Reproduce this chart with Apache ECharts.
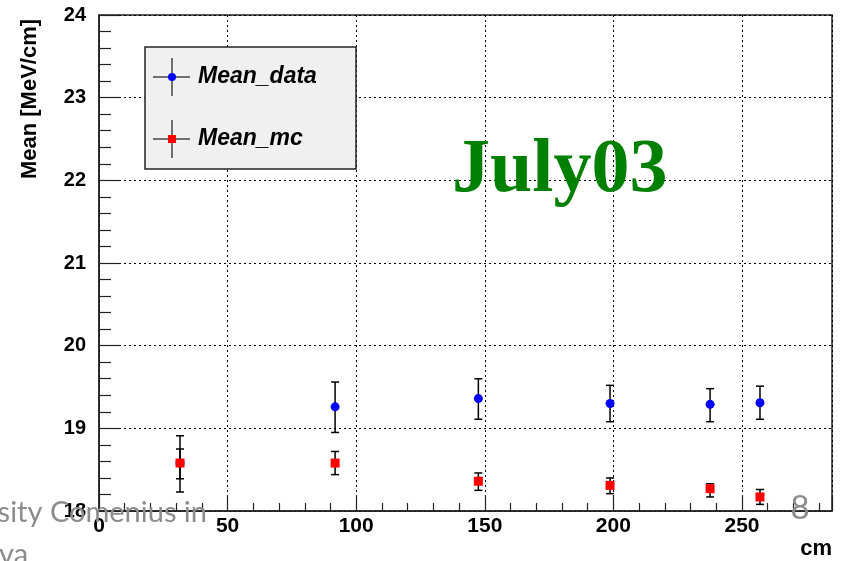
<!DOCTYPE html>
<html>
<head>
<meta charset="utf-8">
<title>Mean energy loss vs position</title>
<script src="https://cdn.jsdelivr.net/npm/echarts@6/dist/echarts.min.js"></script>
<style>
  html, body { margin: 0; padding: 0; background: #fff; }
  #chart { width: 844px; height: 561px; }
</style>
</head>
<body>
<div id="chart"></div>
<script>
// Measurement positions along the module (cm)
const positions = [31.5, 91.8, 147.5, 198.7, 237.6, 257.0];

// Mean energy loss in data, with error band limits (MeV/cm)
const meanData = [18.58, 19.26, 19.36, 19.30, 19.29, 19.31];
const dataLow  = [18.23, 18.95, 19.11, 19.08, 19.08, 19.11];
const dataHigh = [18.91, 19.56, 19.60, 19.52, 19.48, 19.51];

// Mean energy loss in Monte Carlo, with error band limits (MeV/cm)
const meanMc = [18.58, 18.58, 18.36, 18.31, 18.27, 18.17];
const mcLow  = [18.39, 18.44, 18.25, 18.21, 18.17, 18.08];
const mcHigh = [18.75, 18.72, 18.46, 18.40, 18.33, 18.26];

const seriesNames = ['Mean_data', 'Mean_mc'];
const runLabel = 'July03';

const chart = echarts.init(document.getElementById('chart'));

// Vertical error bar with end caps, drawn in data coordinates
function errorBar(params, api) {
  const x = api.value(0);
  const top = api.coord([x, api.value(2)]);
  const bottom = api.coord([x, api.value(1)]);
  const cap = 4;
  const style = { stroke: '#000', lineWidth: 1.5 };
  return {
    type: 'group',
    children: [
      { type: 'line', shape: { x1: top[0], y1: top[1], x2: bottom[0], y2: bottom[1] }, style },
      { type: 'line', shape: { x1: top[0] - cap, y1: top[1], x2: top[0] + cap, y2: top[1] }, style },
      { type: 'line', shape: { x1: bottom[0] - cap, y1: bottom[1], x2: bottom[0] + cap, y2: bottom[1] }, style }
    ]
  };
}

// Legend drawn as a ROOT-style box with cross markers
const legendLeft = 145, legendTop = 47, legendW = 211, legendH = 122;
function legendEntry(cy, color, symbol, text) {
  const cx = 172;
  const cross = { stroke: '#444', lineWidth: 1.5 };
  const marker = symbol === 'circle'
    ? { type: 'circle', z: 12, shape: { cx, cy, r: 4 }, style: { fill: color } }
    : { type: 'rect', z: 12, shape: { x: cx - 4, y: cy - 4, width: 8, height: 8 }, style: { fill: color } };
  return [
    { type: 'line', z: 11, shape: { x1: 153, y1: cy, x2: 190, y2: cy }, style: cross },
    { type: 'line', z: 11, shape: { x1: cx, y1: cy - 19, x2: cx, y2: cy + 19 }, style: cross },
    marker,
    { type: 'text', z: 12, style: { text, x: 198, y: cy, fill: '#000', align: 'left', verticalAlign: 'middle',
        font: 'italic bold 23px "Liberation Sans", Arial, sans-serif' } }
  ];
}

const slideFont = '29px Lato, "Open Sans", sans-serif';

const option = {
  backgroundColor: '#fff',
  animation: false,
  grid: {
    left: 99, top: 15, right: 12, bottom: 50,
    show: true, borderColor: '#222', borderWidth: 1.5, backgroundColor: 'transparent'
  },
  xAxis: {
    type: 'value',
    min: 0, max: 285, interval: 50,
    axisLine: { show: true, onZero: false, lineStyle: { color: '#222', width: 1.5 } },
    axisTick: { show: true, inside: true, length: 16, lineStyle: { color: '#222', width: 1.2 } },
    minorTick: { show: true, splitNumber: 5, length: 8, lineStyle: { color: '#222', width: 1.2 } },
    splitLine: { show: true, lineStyle: { color: '#000', width: 1, type: [2, 3] } },
    axisLabel: { fontSize: 21, margin: 5, showMaxLabel: false, color: '#000', fontWeight: 'bold',
      fontFamily: '"Liberation Sans", Arial, sans-serif' }
  },
  yAxis: {
    type: 'value',
    min: 18, max: 24, interval: 1,
    axisLine: { show: true, onZero: false, lineStyle: { color: '#222', width: 1.5 } },
    axisTick: { show: true, inside: true, length: 20, lineStyle: { color: '#222', width: 1.2 } },
    minorTick: { show: true, splitNumber: 5, length: 12, lineStyle: { color: '#222', width: 1.2 } },
    splitLine: { show: true, lineStyle: { color: '#000', width: 1, type: [2, 3] } },
    axisLabel: { fontSize: 20, margin: 13, color: '#000', fontWeight: 'bold',
      fontFamily: '"Liberation Sans", Arial, sans-serif' }
  },
  series: [
    {
      name: seriesNames[0] + ' errors',
      type: 'custom',
      renderItem: errorBar,
      encode: { x: 0, y: [1, 2] },
      data: positions.map((x, i) => [x, dataLow[i], dataHigh[i]]),
      z: 3
    },
    {
      name: seriesNames[1] + ' errors',
      type: 'custom',
      renderItem: errorBar,
      encode: { x: 0, y: [1, 2] },
      data: positions.map((x, i) => [x, mcLow[i], mcHigh[i]]),
      z: 3
    },
    {
      name: seriesNames[0],
      type: 'scatter',
      symbol: 'circle',
      symbolSize: 9,
      itemStyle: { color: '#0000ff', opacity: 1 },
      data: positions.map((x, i) => [x, meanData[i]]),
      z: 4
    },
    {
      name: seriesNames[1],
      type: 'scatter',
      symbol: 'rect',
      symbolSize: 9,
      itemStyle: { color: '#ff0000', opacity: 1 },
      data: positions.map((x, i) => [x, meanMc[i]]),
      z: 5
    }
  ],
  graphic: [
    {
      type: 'rect', z: 10,
      shape: { x: legendLeft, y: legendTop, width: legendW, height: legendH },
      style: { fill: '#f0f0f0', stroke: '#222', lineWidth: 1.5 }
    },
    ...legendEntry(77, '#0000ff', 'circle', seriesNames[0]),
    ...legendEntry(139, '#ff0000', 'rect', seriesNames[1]),
    {
      type: 'text', z: 12,
      style: { text: runLabel, x: 452, y: 171, fill: '#008000', align: 'left', verticalAlign: 'middle',
        font: 'bold 76px "Liberation Serif", "Times New Roman", serif' }
    },
    {
      type: 'text', z: 12,
      rotation: Math.PI / 2,
      x: 30, y: 99,
      style: { text: 'Mean [MeV/cm]', x: 0, y: 0, fill: '#000', align: 'center', verticalAlign: 'middle',
        font: 'bold 22px "Liberation Sans", Arial, sans-serif' }
    },
    {
      type: 'text', z: 12,
      style: { text: 'cm', x: 832, y: 549, fill: '#000', align: 'right', verticalAlign: 'middle',
        font: 'bold 22px "Liberation Sans", Arial, sans-serif' }
    },
    {
      type: 'text', z: 20,
      style: { text: 'sity Comenius in', x: 207, y: 513, fill: '#8c8c8c', align: 'right', verticalAlign: 'middle',
        font: slideFont }
    },
    {
      type: 'text', z: 20,
      style: { text: 'va', x: -1, y: 555, fill: '#8c8c8c', align: 'left', verticalAlign: 'middle',
        font: slideFont }
    },
    {
      type: 'text', z: 20,
      style: { text: '8', x: 800, y: 508, fill: '#8c8c8c', align: 'center', verticalAlign: 'middle',
        font: '33px Lato, "Open Sans", sans-serif' }
    }
  ]
};

chart.setOption(option);
</script>
</body>
</html>
